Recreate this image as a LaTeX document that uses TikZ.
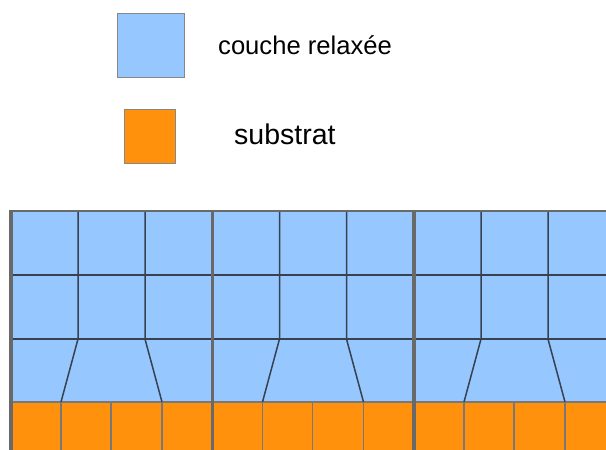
\documentclass[tikz,border=0pt]{standalone}
\usepackage{fontspec}
\setmainfont{Liberation Sans}
\usetikzlibrary{positioning}
\definecolor{layerblue}{RGB}{150,199,255}
\definecolor{substrateorange}{RGB}{255,145,13}
\definecolor{wallgray}{RGB}{105,105,105}
\definecolor{cellline}{RGB}{55,65,80}

\begin{document}
\begin{tikzpicture}[x=1pt,y=-1pt,line join=miter,
  keybox/.style={draw=wallgray!80,inner sep=0pt},
  keytext/.style={anchor=base west,inner sep=0pt},
  cell/.style={cellline,line width=1.5pt},
  atom/.style={wallgray!90,line width=1.1pt},
  wall/.style={wallgray,line width=3.6pt}]
\useasboundingbox (0,0) rectangle (606,450);
% legend
\node[keybox,fill=layerblue,minimum width=67pt,minimum height=64pt] (keyLayer) at (150.5,45) {};
\node[keybox,fill=substrateorange,minimum width=51pt,minimum height=54pt] (keySub) at (149.5,136) {};
\node[keytext,font=\fontsize{25.6}{30}\selectfont] (txtLayer) at (218,54) {couche relaxée};
\node[keytext,font=\fontsize{28.5}{34}\selectfont] (txtSub) at (234,144) {substrat};
% relaxed layer on the substrate
\begin{scope}
\clip (0,0) rectangle (606,450);
\fill[layerblue] (11,211) rectangle (620,402);
\fill[substrateorange] (11,402) rectangle (620,455);
\draw[cell] (11,275) -- (620,275);
\draw[cell] (11,339) -- (620,339);
\draw[atom] (11,402) -- (620,402);
\foreach \bx in {11,212.5,414}{
  \draw[cell] (\bx+67,211) -- (\bx+67,339) -- (\bx+50,402);
  \draw[cell] (\bx+134,211) -- (\bx+134,339) -- (\bx+151,402);
  \foreach \ox in {50,100,151}{\draw[atom] (\bx+\ox,402) -- (\bx+\ox,455);}
}
\draw[wallgray,line width=2.4pt] (11,211) -- (620,211);
\foreach \bx in {11,212.5,414,615.5}{\draw[wall] (\bx,210) -- (\bx,455);}
\end{scope}
\end{tikzpicture}
\end{document}
